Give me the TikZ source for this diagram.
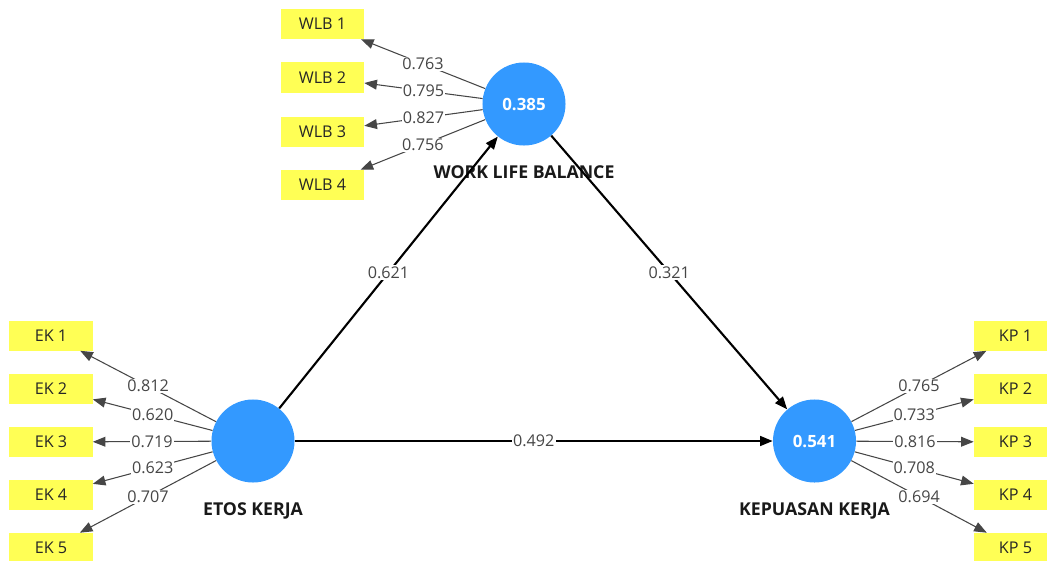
\documentclass[tikz,border=0pt]{standalone}
\usepackage{fontspec}
\setmainfont{Open Sans}
\usetikzlibrary{arrows.meta, positioning}
\definecolor{lvblue}{RGB}{51,153,255}
\definecolor{indyellow}{RGB}{255,255,85}
\definecolor{loadgray}{RGB}{70,70,70}
\tikzset{
  sem/.style={
	x=0.025cm, y=-0.025cm, % one unit is one pixel of the screenshot
	node distance=0.36cm,
	every node/.style={font=\fontsize{11.5}{13}\selectfont},
  },
  latent/.style={circle, fill=lvblue, minimum size=2.075cm, inner sep=0pt, text=white, font=\fontsize{12}{14}\selectfont\bfseries}, % the blue constructs
  indicator/.style={rectangle, fill=indyellow, minimum width=2.075cm, minimum height=0.75cm, inner sep=0pt, text=black!85}, % the yellow items
  construct/.style={font=\fontsize{12.6}{14}\selectfont\bfseries, text=black!90}, % name under a construct
  loading/.style={-{Triangle[length=9pt,width=7pt]}, draw=loadgray, line width=0.75pt}, % outer loadings
  structural/.style={-{Triangle[length=9pt,width=7pt]}, draw=black, line width=1.5pt}, % inner model
  coef/.style={fill=white, inner sep=0.8pt, text=loadgray}, % numbers on the lines
}

\begin{document}
\begin{tikzpicture}[sem]
\useasboundingbox (0,0) rectangle (1047,560);
\clip (0,0) rectangle (1047,560);

% constructs
\node[latent] (wlb) at (524,104) {0.385};
\node[latent] (ek) at (253,441) {};
\node[latent] (kp) at (814.5,441) {0.541};
\node[construct, below=of wlb] (wlbname) {WORK LIFE BALANCE};
\node[construct, below=of ek] (ekname) {ETOS KERJA};
\node[construct, below=of kp] (kpname) {KEPUASAN KERJA};

% indicators
\node[indicator] (wlb1) at (322.5,24) {WLB 1};
\node[indicator] (wlb2) at (322.5,77.5) {WLB 2};
\node[indicator] (wlb3) at (322.5,131.5) {WLB 3};
\node[indicator] (wlb4) at (322.5,185) {WLB 4};
\node[indicator] (ek1) at (51,335.5) {EK 1};
\node[indicator] (ek2) at (51,388.5) {EK 2};
\node[indicator] (ek3) at (51,442) {EK 3};
\node[indicator] (ek4) at (51,495) {EK 4};
\node[indicator] (ek5) at (51,548) {EK 5};
\node[indicator] (kp1) at (1015.5,335.5) {KP 1};
\node[indicator] (kp2) at (1015.5,388.5) {KP 2};
\node[indicator] (kp3) at (1015.5,442) {KP 3};
\node[indicator] (kp4) at (1015.5,495) {KP 4};
\node[indicator] (kp5) at (1015.5,548) {KP 5};

% outer model
\draw   (wlb) edge[loading] node[coef]{0.763} (wlb1)
	(wlb) edge[loading] node[coef]{0.795} (wlb2)
	(wlb) edge[loading] node[coef]{0.827} (wlb3)
	(wlb) edge[loading] node[coef]{0.756} (wlb4)
	(ek) edge[loading] node[coef]{0.812} (ek1)
	(ek) edge[loading] node[coef]{0.620} (ek2)
	(ek) edge[loading] node[coef]{0.719} (ek3)
	(ek) edge[loading] node[coef]{0.623} (ek4)
	(ek) edge[loading] node[coef]{0.707} (ek5)
	(kp) edge[loading] node[coef]{0.765} (kp1)
	(kp) edge[loading] node[coef]{0.733} (kp2)
	(kp) edge[loading] node[coef]{0.816} (kp3)
	(kp) edge[loading] node[coef]{0.708} (kp4)
	(kp) edge[loading] node[coef]{0.694} (kp5)
;

% inner model
\draw   (ek) edge[structural] node[coef]{0.621} (wlb)
	(wlb) edge[structural] node[coef]{0.321} (kp)
	(ek) edge[structural] node[coef]{0.492} (kp)
;
\end{tikzpicture}
\end{document}
